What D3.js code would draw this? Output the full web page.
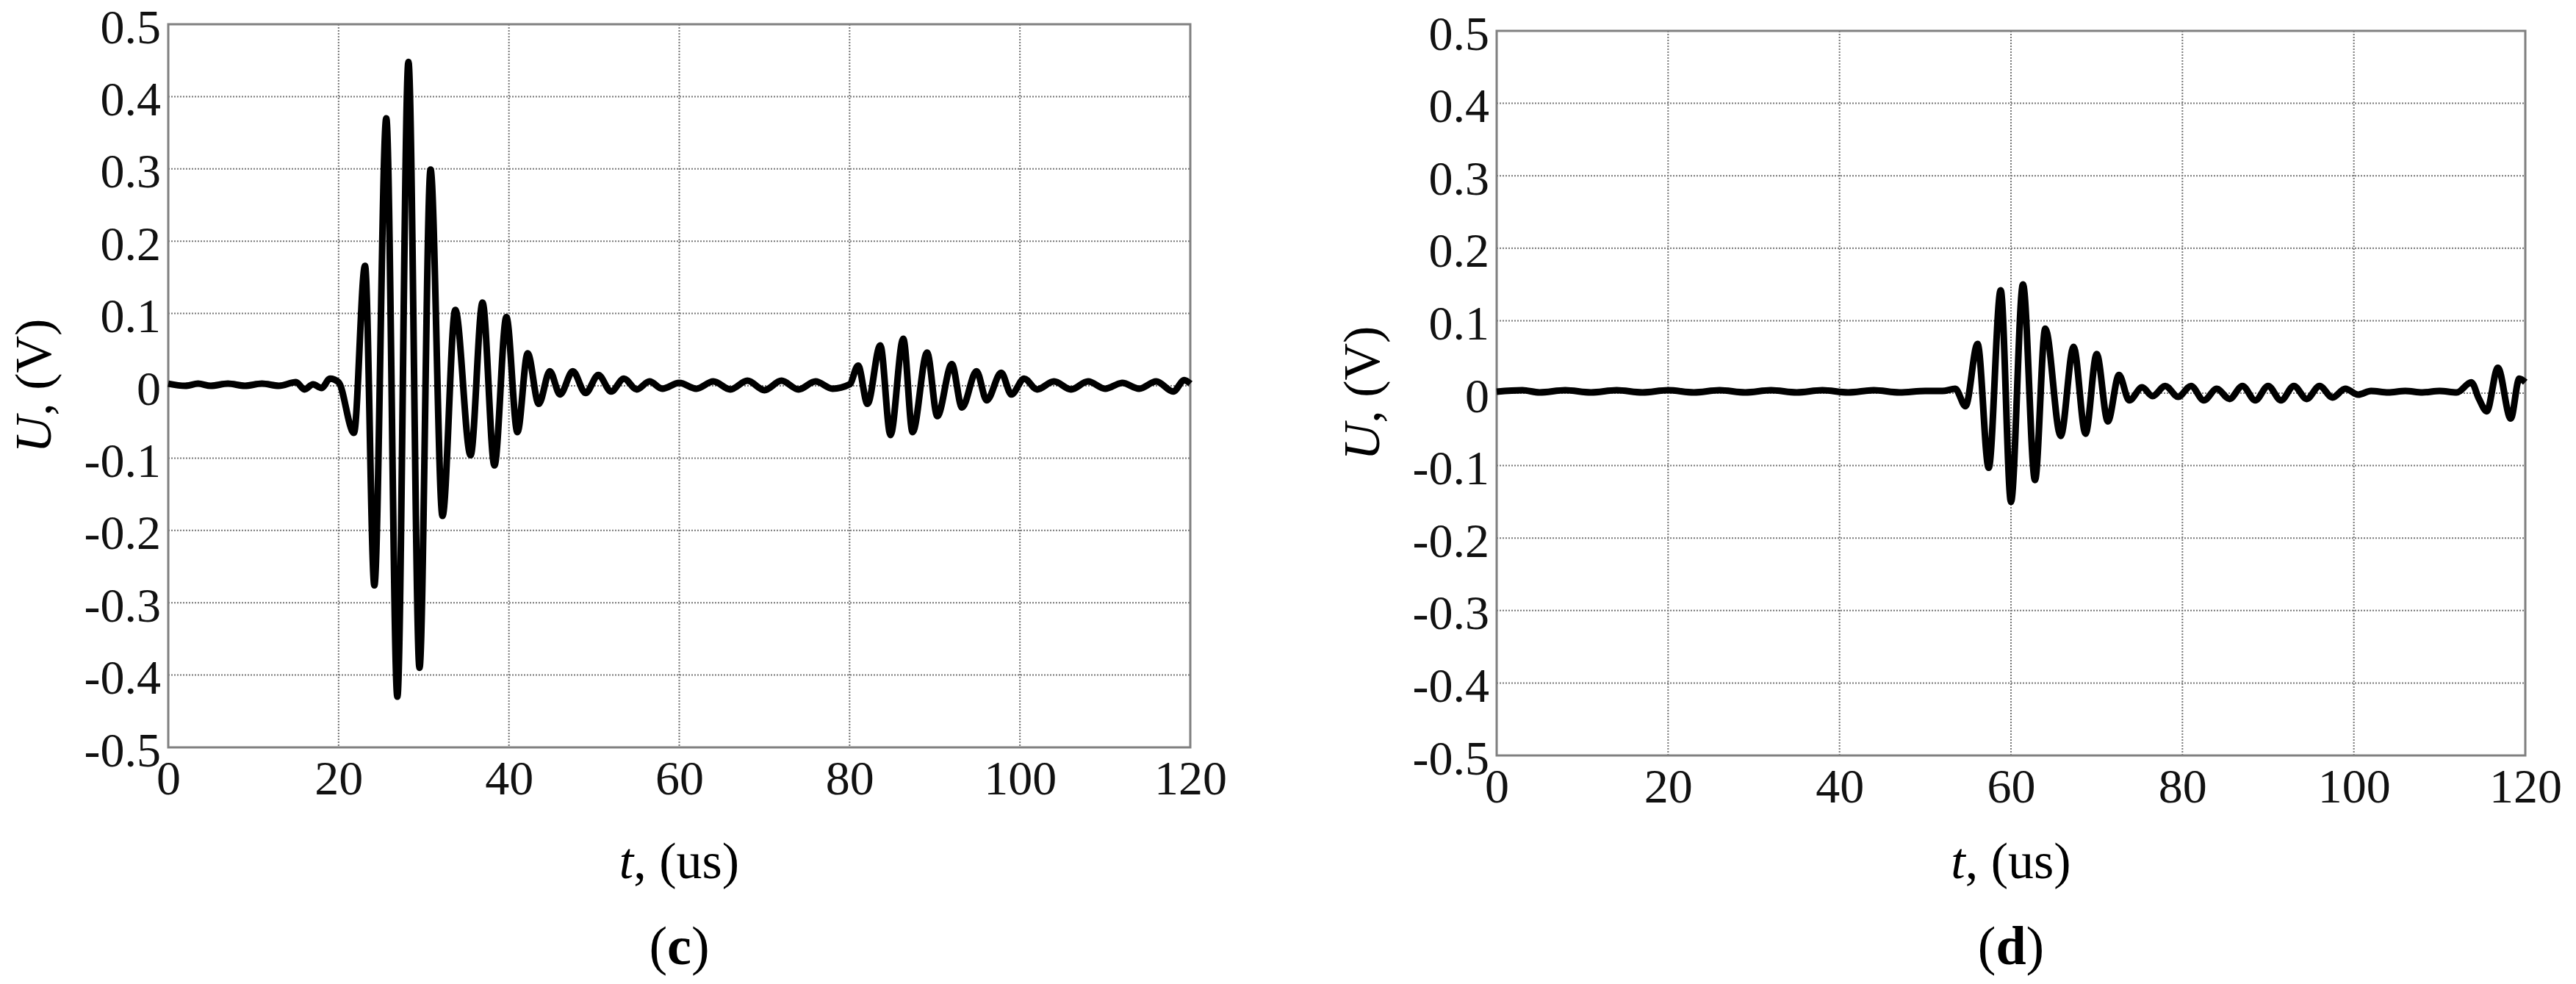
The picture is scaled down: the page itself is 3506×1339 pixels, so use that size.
<!DOCTYPE html>
<html><head><meta charset="utf-8">
<script src="https://cdn.jsdelivr.net/npm/d3@7"></script>
<style>body{margin:0;background:#fff}</style></head>
<body><svg id="c" width="3506" height="1339"></svg>
<script>
const xTicks=[0,20,40,60,80,100,120];
const yTicks=[0.5,0.4,0.3,0.2,0.1,0,-0.1,-0.2,-0.3,-0.4,-0.5];
const yTickLabels=["0.5","0.4","0.3","0.2","0.1","0","-0.1","-0.2","-0.3","-0.4","-0.5"];
const xLabel="t, (us)", yLabel="U, (V)";
const panelLabels=["c","d"];

const cTime=[0,2,3.5,5,7,9,11,13,15,16,17,18,19,20,21.8,23.1,24.2,25.6,26.9,28.2,29.5,30.8,32.2,33.7,35.5,36.9,38.3,39.7,41.0,42.2,43.5,44.8,46,47.5,49,50.5,52,53.5,55,56.5,58,60,62,64,66,68,70,72,74,76,78,80,81.0,82.1,83.6,84.8,86.3,87.4,89.1,90.3,92.0,93.2,94.9,96.1,97.8,99.0,100.5,102,104,106,108,110,112,114,116,118,119.3,120];
const cVolt=[0.003,0,0.003,0,0.003,0,0.003,0,0.005,-0.005,0.002,-0.003,0.01,0.005,-0.065,0.166,-0.276,0.37,-0.43,0.448,-0.39,0.299,-0.18,0.105,-0.096,0.115,-0.11,0.095,-0.064,0.045,-0.025,0.02,-0.012,0.02,-0.01,0.015,-0.008,0.01,-0.005,0.006,-0.004,0.004,-0.004,0.006,-0.005,0.007,-0.006,0.007,-0.005,0.006,-0.004,0.002,0.028,-0.025,0.056,-0.068,0.065,-0.064,0.046,-0.042,0.03,-0.03,0.02,-0.02,0.018,-0.012,0.01,-0.005,0.006,-0.005,0.006,-0.004,0.004,-0.004,0.006,-0.008,0.008,0.003];

const dTime=[0,3,5,8,11,14,17,20,23,26,29,32,35,38,41,44,47,50,52,53.5,54.7,56.1,57.4,58.8,60.0,61.4,62.8,64.0,65.8,67.3,68.7,70.0,71.3,72.6,73.8,75.3,76.5,78,79.5,81,82.5,84,85.5,87,88.5,90,91.5,93,94.5,96,97.5,99,100.5,102,104,106,108,110,112,113.7,114.6,115.5,116.8,118.3,119.3,120];
const dVolt=[0.002,0.004,0.001,0.004,0.001,0.004,0.001,0.004,0.001,0.004,0.001,0.004,0.001,0.004,0.001,0.004,0.001,0.003,0.003,0.006,-0.018,0.068,-0.103,0.142,-0.150,0.150,-0.120,0.089,-0.059,0.064,-0.056,0.054,-0.039,0.025,-0.01,0.008,-0.004,0.01,-0.005,0.01,-0.01,0.006,-0.008,0.01,-0.01,0.01,-0.01,0.01,-0.008,0.01,-0.006,0.006,-0.002,0.003,0.001,0.003,0.001,0.003,0.001,0.015,-0.008,-0.025,0.035,-0.035,0.02,0.015];

const panels=[
 {x0:229,x1:1620,y0:33,y1:1017,t:cTime,v:cVolt,lab:panelLabels[0]},
 {x0:2037,x1:3437,y0:42,y1:1028,t:dTime,v:dVolt,lab:panelLabels[1]}
];
const svg=d3.select("#c");
const font="'Liberation Serif','DejaVu Serif',serif";
panels.forEach(p=>{
  const x=d3.scaleLinear().domain([0,120]).range([p.x0,p.x1]);
  const y=d3.scaleLinear().domain([-0.5,0.5]).range([p.y1,p.y0]);
  const g=svg.append("g");
  g.selectAll(".gx").data(xTicks.slice(1,-1)).join("line")
   .attr("x1",d=>x(d)).attr("x2",d=>x(d)).attr("y1",p.y0).attr("y2",p.y1)
   .attr("stroke","#777").attr("stroke-width",2).attr("stroke-dasharray","2,2");
  g.selectAll(".gy").data(yTicks.slice(1,-1)).join("line")
   .attr("y1",d=>y(d)).attr("y2",d=>y(d)).attr("x1",p.x0).attr("x2",p.x1)
   .attr("stroke","#777").attr("stroke-width",2).attr("stroke-dasharray","2,2");
  const ax=g.append("g").attr("transform",`translate(0,${p.y1})`)
   .call(d3.axisBottom(x).tickValues(xTicks).tickSize(0).tickPadding(16));
  const ay=g.append("g").attr("transform",`translate(${p.x0},0)`)
   .call(d3.axisLeft(y).tickValues(yTicks).tickSize(0).tickPadding(10).tickFormat((d,i)=>yTickLabels[i]));
  [ax,ay].forEach(a=>{a.select(".domain").remove();
    a.selectAll("text").attr("font-family",font).attr("font-size",66).attr("fill","#111");});
  ax.selectAll("text").attr("dy","0.72em");
  ay.selectAll("text").attr("dy","0.38em");
  g.append("rect").attr("x",p.x0).attr("y",p.y0).attr("width",p.x1-p.x0).attr("height",p.y1-p.y0)
   .attr("fill","none").attr("stroke","#808080").attr("stroke-width",3);
  const line=d3.line().x(i=>x(p.t[i])).y(i=>y(p.v[i])).curve(d3.curveMonotoneX);
  g.append("path").attr("d",line(d3.range(p.t.length))).attr("fill","none")
   .attr("stroke","#000").attr("stroke-width",9).attr("stroke-linejoin","round");
  const cx=(p.x0+p.x1)/2, cy=(p.y0+p.y1)/2;
  const xl=g.append("text").attr("x",cx).attr("y",1195).attr("text-anchor","middle")
   .attr("font-family",font).attr("font-size",70);
  xl.append("tspan").attr("font-style","italic").text("t");
  xl.append("tspan").text(", (us)");
  const yl=g.append("text").attr("transform",`translate(${p.x0-160},${cy}) rotate(-90)`).attr("text-anchor","middle")
   .attr("font-family",font).attr("font-size",70);
  yl.append("tspan").attr("font-style","italic").text("U");
  yl.append("tspan").text(", (V)");
  const pl=g.append("text").attr("x",cx).attr("y",1312).attr("text-anchor","middle")
   .attr("font-family",font).attr("font-size",74);
  pl.append("tspan").text("(");
  pl.append("tspan").attr("font-weight","bold").text(p.lab);
  pl.append("tspan").text(")");
});
</script></body></html>
